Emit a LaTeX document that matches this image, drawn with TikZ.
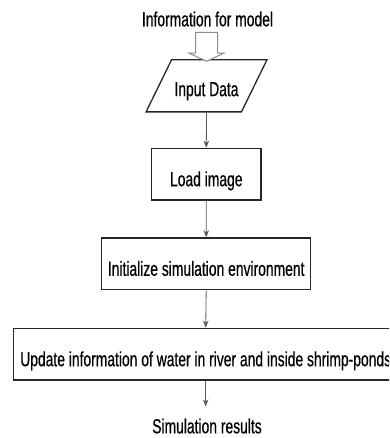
\documentclass[tikz,border=0pt]{standalone}
\usepackage{fontspec}
\usetikzlibrary{arrows.meta,calc}
\newfontfamily\narrowsf[FakeStretch=0.68,FakeBold=0.5]{Liberation Sans}

\tikzset{
  every node/.style={font=\narrowsf\fontsize{20.4}{24}\selectfont, text=black},
  stepbox/.style={draw=black!85, line width=1.3pt, fill=white, minimum height=51.7pt,
                  inner sep=0pt, text height=24pt, text depth=0pt},
  plainlabel/.style={inner sep=0pt, text height=14.6pt, text depth=0pt},
  flow/.style={draw=black!65, line width=0.8pt, -{Stealth[length=7pt,width=5.5pt,inset=2pt]}},
  blockarrow/.style={draw=black!45, line width=1pt, fill=white, line join=miter},
  ioshape/.style={draw=black!85, line width=1.3pt, line join=miter},
}

\begin{document}
\begin{tikzpicture}[x=1pt, y=-1pt]
  \useasboundingbox (0,0) rectangle (389,438);
  \clip (0,0) rectangle (389,438);

  % labels above and below the chart
  \node[plainlabel] (info) at (207.5,19) {Information for model};
  \node[plainlabel] (res)  at (207,426)  {Simulation results};

  % input parallelogram: text node plus slanted outline
  \node[inner sep=0pt, minimum width=95pt, minimum height=51.7pt,
        text height=20.6pt, text depth=0pt] (inp) at (206.5,85.85) {Input Data};
  \draw[ioshape] ($(inp.south west)+(-12.75,0)$) -- ($(inp.north west)+(12.75,0)$)
                 -- ($(inp.north east)+(12.75,0)$) -- ($(inp.south east)+(-12.75,0)$) -- cycle;

  % processing steps
  \node[stepbox, minimum width=109.3pt] (load) at (206.3,174.2) {Load image};
  \node[stepbox, minimum width=209pt]   (init) at (206.2,263.8) {Initialize simulation environment};
  \node[stepbox, minimum width=384.7pt] (upd)  at (205.7,354.2)
        {Update information of water in river and inside shrimp-ponds};

  % hollow block arrow feeding the input
  \draw[blockarrow, shift={(inp.north)}]
    (0,1.5) -- (17.5,-6.7) -- (11,-6.7) -- (11,-27.3) -- (-11,-27.3)
    -- (-11,-6.7) -- (-17.5,-6.7) -- cycle;

  % flow connectors
  \draw[flow] (inp.south)  -- (load.north);
  \draw[flow] (load.south) -- (init.north);
  \draw[flow] (init.south) -- (upd.north);
  \draw[flow, shorten >=12pt] (upd.south) -- (upd.south |- res.north);
\end{tikzpicture}
\end{document}
